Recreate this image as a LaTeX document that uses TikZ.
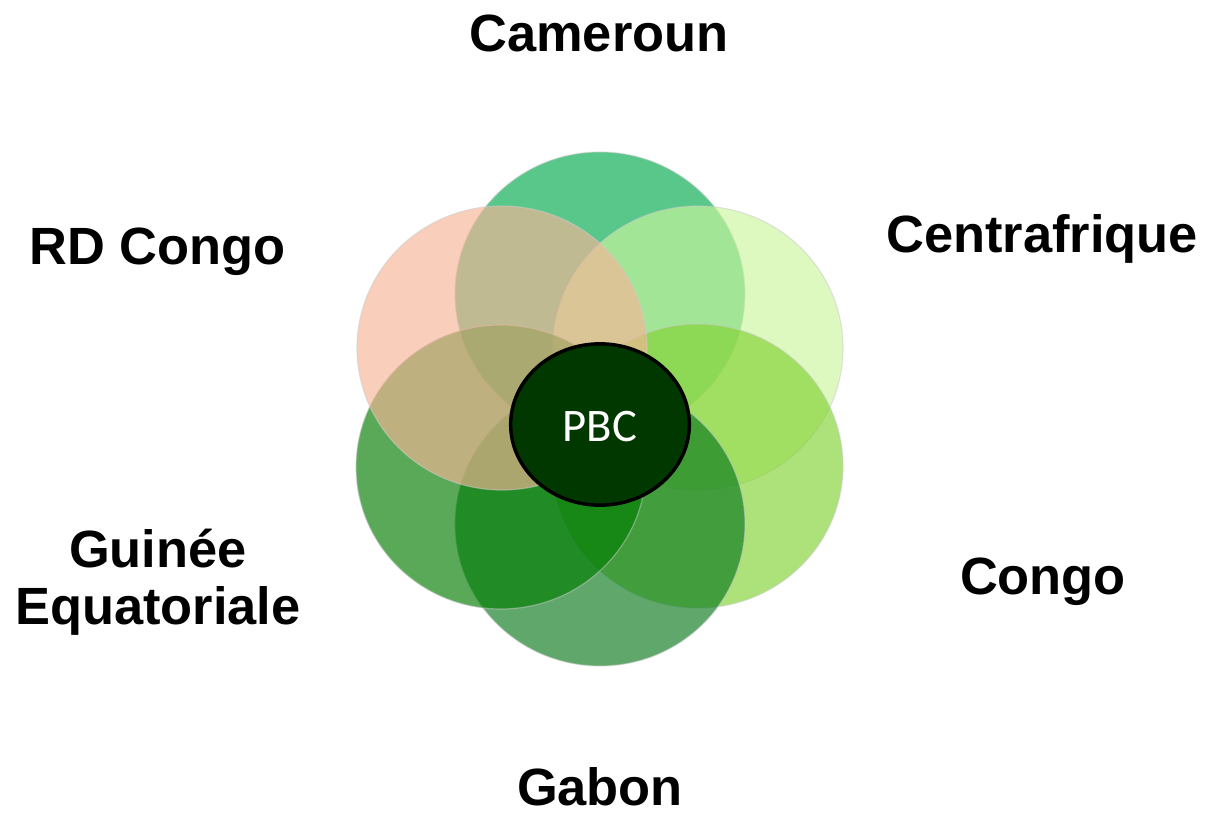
\documentclass[tikz,border=0pt]{standalone}
\usepackage{fontspec}
\setmainfont{Liberation Sans}
\newfontfamily\pbcfont{Carlito}
\definecolor{cTop}{RGB}{0,170,75}
\definecolor{cTR}{RGB}{203,246,158}
\definecolor{cBR}{RGB}{130,210,50}
\definecolor{cBot}{RGB}{10,121,29}
\definecolor{cBL}{RGB}{0,124,0}
\definecolor{cTL}{RGB}{246,180,150}
\definecolor{cPBC}{RGB}{0,56,0}
\tikzset{
  petal/.style={ellipse, minimum width=217.5pt, minimum height=213pt, inner sep=0pt,
    fill opacity=0.65, draw=white!60!gray, draw opacity=0.5, line width=0.9pt},
  country/.style={font=\fontsize{39.3}{42.75}\selectfont\bfseries, text=black, inner sep=0pt, anchor=base, align=center},
  hub/.style={ellipse, minimum width=134pt, minimum height=121pt, inner sep=0pt,
    fill=cPBC, draw=black, line width=2.6pt}
}
\usetikzlibrary{shapes.geometric}
\begin{document}
\begin{tikzpicture}[x=0.75pt,y=-0.75pt]
\useasboundingbox (0,0) rectangle (1206,813);
\fill[white] (0,0) rectangle (1206,813);
\node[petal, fill=cTop] (top) at (600,294) {};
\node[petal, fill=cTR] (tr) at (698,348) {};
\node[petal, fill=cBR] (br) at (698,466) {};
\node[petal, fill=cBot] (bot) at (600,524) {};
\node[petal, fill=cBL] (bl) at (501,467) {};
\node[petal, fill=cTL] (tl) at (502,348) {};
\node[hub] (pbc) at (600,424.5) {};
\node[text=white, font=\pbcfont\fontsize{35}{40}\selectfont, anchor=base, inner sep=0pt] (pbctext) at (600,441) {PBC};
\node[country] (cameroun) at (599,52) {Cameroun};
\node[country] (rdc) at (157.5,264) {RD Congo};
\node[country] (centr) at (1042,252) {Centrafrique};
\node[country] (congo) at (1043,594) {Congo};
\node[country] (guinee) at (158,624) {Guinée\\Equatoriale};
\node[country] (gabon) at (600,805) {Gabon};
\end{tikzpicture}
\end{document}
